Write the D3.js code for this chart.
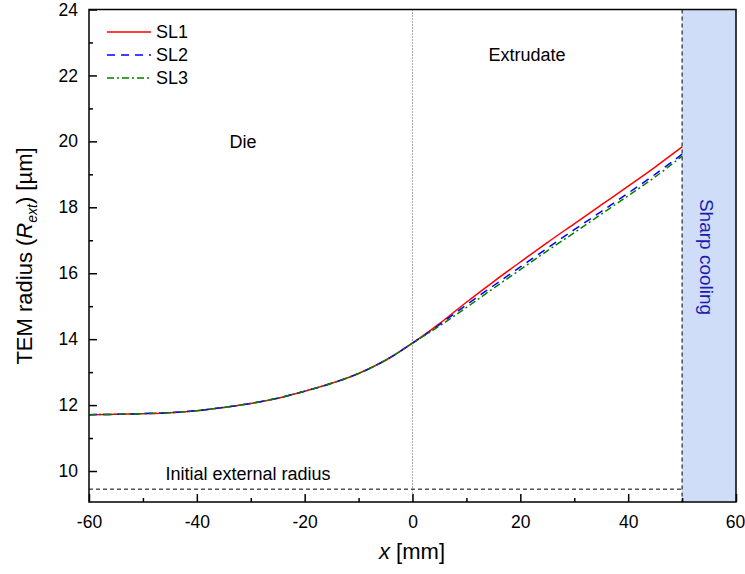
<!DOCTYPE html>
<html><head><meta charset="utf-8">
<script src="https://cdn.jsdelivr.net/npm/d3@7"></script>
<style>body{margin:0;background:#fff}svg{font-family:"Liberation Sans",Arial,sans-serif}</style>
</head><body>
<svg id="c" width="745" height="574"></svg>
<script>
const dieX = [-60,-55,-50,-45,-40,-35,-30,-25,-20,-15,-10,-5,0];
const dieY = [11.71,11.72,11.74,11.77,11.83,11.93,12.05,12.21,12.42,12.66,12.96,13.36,13.88];
const extX = [0,5,10,15,20,25,30,35,40,45,50];
const sl1 = [13.88,14.47,15.12,15.74,16.34,16.93,17.5,18.07,18.64,19.22,19.83];
const sl2 = [13.88,14.44,15.04,15.62,16.19,16.76,17.32,17.87,18.43,19.0,19.61];
const sl3 = [13.88,14.40,14.96,15.54,16.11,16.68,17.23,17.79,18.35,18.92,19.55];
const seriesNames = ["SL1","SL2","SL3"];
const seriesColors = ["#ff0000","#0000ff","#008000"];
const seriesDash = [null,"8,6","7,3,2,3"];
const xTicks = [-60,-40,-20,0,20,40,60];
const yTicks = [10,12,14,16,18,20,22,24];
const initialRadius = 9.45;
const coolingStart = 50;

const svg = d3.select("#c");
const L=89, R=736, T=9.5, B=502;
const x = d3.scaleLinear().domain([-60,60]).range([L,R]);
const y = d3.scaleLinear().domain([9.06,24]).range([B,T]);

svg.append("rect").attr("x",x(coolingStart)).attr("y",T).attr("width",x(60)-x(coolingStart)).attr("height",B-T).attr("fill","#cfddf9");

svg.append("line").attr("x1",x(0)).attr("x2",x(0)).attr("y1",T).attr("y2",B).attr("stroke","#555").attr("stroke-width",1).attr("stroke-dasharray","1,2");
svg.append("line").attr("x1",x(coolingStart)).attr("x2",x(coolingStart)).attr("y1",T).attr("y2",B).attr("stroke","#000").attr("stroke-width",1).attr("stroke-dasharray","4,3");
svg.append("line").attr("x1",L).attr("x2",x(coolingStart)).attr("y1",y(initialRadius)).attr("y2",y(initialRadius)).attr("stroke","#000").attr("stroke-width",1).attr("stroke-dasharray","4,3");

const ext = [sl1,sl2,sl3];
const line = d3.line().x(d=>x(d[0])).y(d=>y(d[1])).curve(d3.curveCatmullRom.alpha(0.5));
ext.forEach((vals,i)=>{
  const pts = dieX.map((xx,j)=>[xx,dieY[j]]).concat(extX.slice(1).map((xx,j)=>[xx,vals[j+1]]));
  const p = svg.append("path").attr("d",line(pts)).attr("fill","none").attr("stroke",seriesColors[i]).attr("stroke-width",1.5);
  if(seriesDash[i]) p.attr("stroke-dasharray",seriesDash[i]);
});

const fmt = d => String(d);
const gx = svg.append("g").attr("transform",`translate(0,${B})`)
  .call(d3.axisBottom(x).tickValues(xTicks).tickSize(-8).tickPadding(14).tickFormat(fmt));
gx.selectAll(".tick text").filter(d=>d===60).attr("dx",-1).attr("text-anchor","middle");
svg.append("g").attr("transform",`translate(0,${B})`)
  .call(d3.axisBottom(x).tickValues([-50,-30,-10,10,30,50]).tickSize(-4).tickFormat(""));
svg.append("g").attr("transform",`translate(${L},0)`)
  .call(d3.axisLeft(y).tickValues(yTicks).tickSize(-8).tickPadding(11).tickFormat(fmt));
svg.append("g").attr("transform",`translate(${L},0)`)
  .call(d3.axisLeft(y).tickValues([11,13,15,17,19,21,23]).tickSize(-4).tickFormat(""));
svg.selectAll(".domain").remove();
svg.selectAll(".tick line").attr("stroke","#000").attr("stroke-width",1.5);
svg.selectAll(".tick text").attr("font-size",17.5).attr("fill","#000").attr("font-family","Liberation Sans, Arial, sans-serif");
svg.append("rect").attr("x",L).attr("y",T).attr("width",R-L).attr("height",B-T).attr("fill","none").attr("stroke","#000").attr("stroke-width",1.5);

const txt=(t,xx,yy,opt={})=>svg.append("text").attr("x",xx).attr("y",yy).attr("font-size",opt.fs||18).attr("text-anchor",opt.anchor||"middle").attr("fill",opt.fill||"#000").text(t);
txt("Die",243,148);
txt("Extrudate",527,61);
txt("Initial external radius",248,480);
svg.append("text").attr("transform",`translate(700,257) rotate(90)`).attr("text-anchor","middle").attr("font-size",19).attr("fill","#1c1cb0").text("Sharp cooling");

seriesNames.forEach((n,i)=>{
  const yy = 32 + i*23;
  const l = svg.append("line").attr("x1",107).attr("x2",151).attr("y1",yy).attr("y2",yy).attr("stroke",seriesColors[i]).attr("stroke-width",1.5);
  if(seriesDash[i]) l.attr("stroke-dasharray",seriesDash[i]);
  txt(n,156,yy+6,{anchor:"start"});
});

const xt = svg.append("text").attr("x",412).attr("y",559).attr("text-anchor","middle").attr("font-size",22);
xt.append("tspan").attr("font-style","italic").text("x");
xt.append("tspan").text(" [mm]");
const yt = svg.append("text").attr("transform","translate(32,256) rotate(-90)").attr("text-anchor","middle").attr("font-size",22);
yt.append("tspan").text("TEM radius (");
yt.append("tspan").attr("font-style","italic").text("R");
yt.append("tspan").attr("font-style","italic").attr("font-size",14).attr("dy",5).text("ext");
yt.append("tspan").attr("dy",-5).text(") [µm]");
</script>
</body></html>
